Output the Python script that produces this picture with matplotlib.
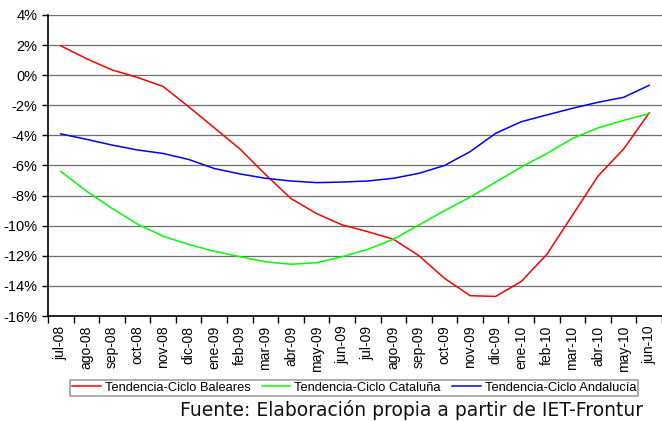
import matplotlib
matplotlib.use("Agg")
import matplotlib.pyplot as plt
from matplotlib.ticker import FuncFormatter, MultipleLocator
import numpy as np

plt.rcParams['axes.unicode_minus'] = False
plt.rcParams['font.family'] = ['Liberation Sans', 'DejaVu Sans']

# Data
months = ["jul-08", "ago-08", "sep-08", "oct-08", "nov-08", "dic-08", "ene-09", "feb-09",
          "mar-09", "abr-09", "may-09", "jun-09", "jul-09", "ago-09", "sep-09", "oct-09",
          "nov-09", "dic-09", "ene-10", "feb-10", "mar-10", "abr-10", "may-10", "jun-10"]
baleares = [1.95, 1.1, 0.35, -0.15, -0.75, -2.1, -3.5, -4.9, -6.6, -8.2, -9.2, -9.95,
            -10.4, -10.9, -12.0, -13.5, -14.65, -14.7, -13.7, -11.9, -9.3, -6.7, -4.9, -2.5]
cataluna = [-6.4, -7.7, -8.85, -9.9, -10.7, -11.25, -11.7, -12.06, -12.4, -12.56, -12.46, -12.06,
            -11.57, -10.9, -9.95, -9.0, -8.1, -7.1, -6.1, -5.2, -4.2, -3.5, -3.0, -2.55]
andalucia = [-3.9, -4.26, -4.64, -4.97, -5.2, -5.6, -6.2, -6.56, -6.85, -7.03, -7.14, -7.1,
             -7.03, -6.85, -6.52, -6.0, -5.08, -3.86, -3.09, -2.64, -2.2, -1.8, -1.47, -0.67]
series_names = ["Tendencia-Ciclo Baleares", "Tendencia-Ciclo Cataluña", "Tendencia-Ciclo Andalucía"]
source = "Fuente: Elaboración propia a partir de IET-Frontur"

fig = plt.figure(figsize=(6.62, 4.21), dpi=100)
ax = fig.add_axes([0.0725, 0.2494, 0.9275, 0.715])

x = np.arange(len(months))
ax.plot(x, baleares, color="#ff0000", lw=1.1, label=series_names[0])
ax.plot(x, cataluna, color="#00ff00", lw=1.1, label=series_names[1])
ax.plot(x, andalucia, color="#0000ff", lw=1.1, label=series_names[2])

ax.set_xlim(-0.5, len(months) - 0.5)
ax.set_ylim(-16, 4)
ax.yaxis.set_major_locator(MultipleLocator(2))
ax.yaxis.set_major_formatter(FuncFormatter(lambda v, p: f"{v:.0f}%"))
ax.yaxis.grid(True, color="#6e6e6e", lw=0.9)
ax.set_axisbelow(True)

ax.set_xticks(x)
ax.set_xticklabels(months, rotation=90, fontsize=10)
ax.set_xticks(np.arange(-0.5, len(months), 1), minor=True)
ax.tick_params(axis="x", which="major", length=0, pad=7)
ax.tick_params(axis="x", which="minor", length=5, width=1, direction="out")
ax.tick_params(axis="y", length=4, width=1, labelsize=10.5, direction="out")

for s in ["top", "right"]:
    ax.spines[s].set_visible(False)
ax.spines["left"].set_linewidth(1.2)
ax.spines["bottom"].set_linewidth(1.2)

leg = fig.legend(loc="center", bbox_to_anchor=(0.535, 0.0784), ncol=3, fontsize=9.3,
                 frameon=True, fancybox=False, edgecolor="#888888", handlelength=2.2,
                 handletextpad=0.3, columnspacing=0.9, borderpad=0.15)
leg.get_frame().set_linewidth(1.2)

fig.text(0.972, 0.026, source, ha="right", va="center", fontsize=13.5,
         family="DejaVu Sans", color="#111111")

plt.savefig("out.png", dpi=100)
